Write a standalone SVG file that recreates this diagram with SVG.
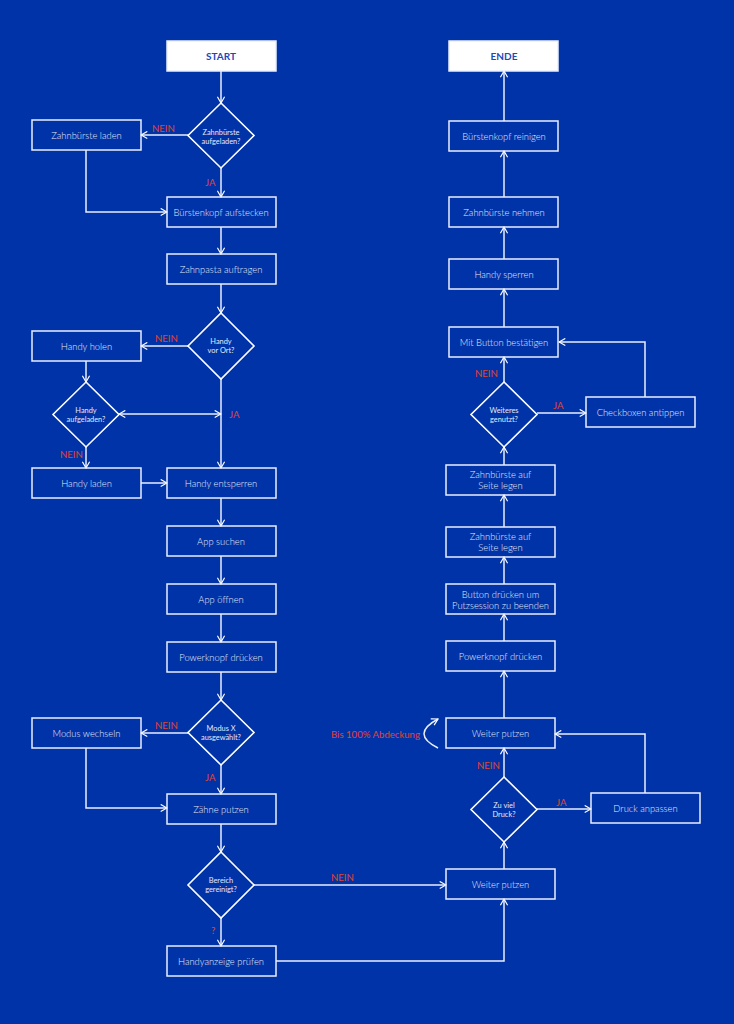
<svg xmlns="http://www.w3.org/2000/svg" width="734" height="1024" viewBox="0 0 734 1024">
<defs>
<marker id="ah" viewBox="0 0 10 10" refX="9" refY="5" markerWidth="9" markerHeight="9" markerUnits="userSpaceOnUse" orient="auto-start-reverse">
<path d="M2,1 L9,5 L2,9" fill="none" stroke="#ffffff" stroke-width="1.3"/>
</marker>
<style>
.box{fill:none;stroke:#e9eefa;stroke-width:1.5}
.term{fill:#ffffff;stroke:#e9eefa;stroke-width:1.5}
.dia{fill:none;stroke:#ffffff;stroke-width:1.6}
.t{font-family:Lato,"Open Sans",sans-serif;font-size:9.4px;font-weight:300;fill:#e4e9f7;text-anchor:middle}
.tt{font-family:Lato,"Open Sans",sans-serif;font-size:10px;font-weight:bold;fill:#1f47b8;text-anchor:middle}
.dt{font-family:Lato,"Open Sans",sans-serif;font-size:7.4px;font-weight:400;fill:#e4e9f7;text-anchor:middle}
.lb{font-family:Lato,"Open Sans",sans-serif;font-size:9.6px;fill:#e0452b}
.c{fill:none;stroke:#e9eefa;stroke-width:1.5;marker-end:url(#ah)}
</style>
</defs>
<rect x="0" y="0" width="734" height="1024" fill="#0033a8"/>

<g id="connectors">
<path class="c" d="M221,71 V103"/>
<path class="c" d="M188,135 H141"/>
<path class="c" d="M221,168 V197"/>
<path class="c" d="M86,150 V212 H167"/>
<path class="c" d="M221,227 V254"/>
<path class="c" d="M221,284 V313"/>
<path class="c" d="M188,346 H141"/>
<path class="c" d="M221,379 V468"/>
<path class="c" d="M86,361 V382"/>
<path class="c" d="M119,414 H221" style="marker-start:url(#ah)"/>
<path class="c" d="M86,447 V468"/>
<path class="c" d="M141,483 H167"/>
<path class="c" d="M221,498 V526"/>
<path class="c" d="M221,556 V584"/>
<path class="c" d="M221,614 V642"/>
<path class="c" d="M221,672 V700"/>
<path class="c" d="M188,733 H141"/>
<path class="c" d="M221,765 V794"/>
<path class="c" d="M86,748 V808 H167"/>
<path class="c" d="M221,824 V852"/>
<path class="c" d="M221,918 V946"/>
<path class="c" d="M254,885 H446"/>
<path class="c" d="M276,961 H504 V899"/>
<path class="c" d="M504,869 V842"/>
<path class="c" d="M504,777 V748"/>
<path class="c" d="M537,809 H591"/>
<path class="c" d="M645,793 V734 H555"/>
<path class="c" d="M504,718 V671"/>
<path class="c" d="M504,641 V614"/>
<path class="c" d="M504,584 V557"/>
<path class="c" d="M504,527 V495"/>
<path class="c" d="M504,465 V447"/>
<path class="c" d="M504,382 V357"/>
<path class="c" d="M537,413 H586"/>
<path class="c" d="M645,397 V342 H559"/>
<path class="c" d="M504,327 V289"/>
<path class="c" d="M504,259 V227"/>
<path class="c" d="M504,197 V151"/>
<path class="c" d="M504,121 V71"/>
<path class="c" d="M438,748 Q410,734 438,719"/>
</g>

<g id="labels">
<text class="lb" x="152" y="132">NEIN</text>
<text class="lb" x="205" y="186">JA</text>
<text class="lb" x="155" y="342">NEIN</text>
<text class="lb" x="229" y="418">JA</text>
<text class="lb" x="60" y="458">NEIN</text>
<text class="lb" x="155" y="729">NEIN</text>
<text class="lb" x="205" y="781">JA</text>
<text class="lb" x="211" y="934">?</text>
<text class="lb" x="331" y="881">NEIN</text>
<text class="lb" x="477" y="769">NEIN</text>
<text class="lb" x="556" y="806">JA</text>
<text class="lb" x="475" y="377">NEIN</text>
<text class="lb" x="553" y="409">JA</text>
<text class="lb" x="331" y="738">Bis 100% Abdeckung</text>
</g>

<g id="start"><rect class="term" x="167" y="41" width="109" height="30"/><text class="tt" x="221" y="59.5">START</text></g>
<g id="d1"><polygon class="dia" points="221,103 254,135.5 221,168 188,135.5"/><text class="dt" x="221" y="135">Zahnbürste</text><text class="dt" x="221" y="143.5">aufgeladen?</text></g>
<g id="zb_laden"><rect class="box" x="32" y="120" width="109" height="30"/><text class="t" x="86.5" y="138.5">Zahnbürste laden</text></g>
<g id="bk_auf"><rect class="box" x="167" y="197" width="109" height="30"/><text class="t" x="221" y="215.5">Bürstenkopf aufstecken</text></g>
<g id="zp"><rect class="box" x="167" y="254" width="109" height="30"/><text class="t" x="221" y="272.5">Zahnpasta auftragen</text></g>
<g id="d2"><polygon class="dia" points="221,313 254,346 221,379 188,346"/><text class="dt" x="221" y="344">Handy</text><text class="dt" x="221" y="352.5">vor Ort?</text></g>
<g id="h_holen"><rect class="box" x="32" y="331" width="109" height="30"/><text class="t" x="86.5" y="349.5">Handy holen</text></g>
<g id="d3"><polygon class="dia" points="86,382 119,414.5 86,447 53,414.5"/><text class="dt" x="86" y="413">Handy</text><text class="dt" x="86" y="421.5">aufgeladen?</text></g>
<g id="h_laden"><rect class="box" x="32" y="468" width="109" height="30"/><text class="t" x="86.5" y="486.5">Handy laden</text></g>
<g id="h_ent"><rect class="box" x="167" y="468" width="109" height="30"/><text class="t" x="221" y="486.5">Handy entsperren</text></g>
<g id="app_s"><rect class="box" x="167" y="526" width="109" height="30"/><text class="t" x="221" y="544.5">App suchen</text></g>
<g id="app_o"><rect class="box" x="167" y="584" width="109" height="30"/><text class="t" x="221" y="602.5">App öffnen</text></g>
<g id="pk1"><rect class="box" x="167" y="642" width="109" height="30"/><text class="t" x="221" y="660.5">Powerknopf drücken</text></g>
<g id="d4"><polygon class="dia" points="221,700 254,732.5 221,765 188,732.5"/><text class="dt" x="221" y="731">Modus X</text><text class="dt" x="221" y="739.5">ausgewählt?</text></g>
<g id="modus"><rect class="box" x="32" y="718" width="109" height="30"/><text class="t" x="86.5" y="736.5">Modus wechseln</text></g>
<g id="zaehne"><rect class="box" x="167" y="794" width="109" height="30"/><text class="t" x="221" y="812.5">Zähne putzen</text></g>
<g id="d5"><polygon class="dia" points="221,852 254,885 221,918 188,885"/><text class="dt" x="221" y="883">Bereich</text><text class="dt" x="221" y="891.5">gereinigt?</text></g>
<g id="hanz"><rect class="box" x="167" y="946" width="109" height="30"/><text class="t" x="221" y="964.5">Handyanzeige prüfen</text></g>

<g id="ende"><rect class="term" x="449" y="41" width="109" height="30"/><text class="tt" x="504" y="59.5">ENDE</text></g>
<g id="bk_rein"><rect class="box" x="449" y="121" width="109" height="30"/><text class="t" x="504" y="139.5">Bürstenkopf reinigen</text></g>
<g id="zb_nehmen"><rect class="box" x="449" y="197" width="109" height="30"/><text class="t" x="504" y="215.5">Zahnbürste nehmen</text></g>
<g id="h_sperren"><rect class="box" x="449" y="259" width="109" height="30"/><text class="t" x="504" y="277.5">Handy sperren</text></g>
<g id="mit_button"><rect class="box" x="449" y="327" width="109" height="30"/><text class="t" x="504" y="345.5">Mit Button bestätigen</text></g>
<g id="d7"><polygon class="dia" points="504,382 537,414.5 504,447 471,414.5"/><text class="dt" x="504" y="413">Weiteres</text><text class="dt" x="504" y="421.5">genutzt?</text></g>
<g id="checkbox"><rect class="box" x="586" y="397" width="109" height="30"/><text class="t" x="640.5" y="415.5">Checkboxen antippen</text></g>
<g id="zb_seite1"><rect class="box" x="446" y="465" width="109" height="30"/><text class="t" x="500.5" y="478">Zahnbürste auf</text><text class="t" x="500.5" y="489">Seite legen</text></g>
<g id="zb_seite2"><rect class="box" x="446" y="527" width="109" height="30"/><text class="t" x="500.5" y="540">Zahnbürste auf</text><text class="t" x="500.5" y="551">Seite legen</text></g>
<g id="button_dr"><rect class="box" x="446" y="584" width="109" height="30"/><text class="t" x="500.5" y="597.5">Button drücken um</text><text class="t" x="500.5" y="608.5">Putzsession zu beenden</text></g>
<g id="pk2"><rect class="box" x="446" y="641" width="109" height="30"/><text class="t" x="500.5" y="659.5">Powerknopf drücken</text></g>
<g id="wp1"><rect class="box" x="446" y="718" width="109" height="30"/><text class="t" x="500.5" y="736.5">Weiter putzen</text></g>
<g id="d6"><polygon class="dia" points="504,777 537,809.5 504,842 471,809.5"/><text class="dt" x="504" y="808">Zu viel</text><text class="dt" x="504" y="816.5">Druck?</text></g>
<g id="druck"><rect class="box" x="591" y="793" width="109" height="30"/><text class="t" x="645.5" y="811.5">Druck anpassen</text></g>
<g id="wp2"><rect class="box" x="446" y="869" width="109" height="30"/><text class="t" x="500.5" y="887.5">Weiter putzen</text></g>
</svg>
